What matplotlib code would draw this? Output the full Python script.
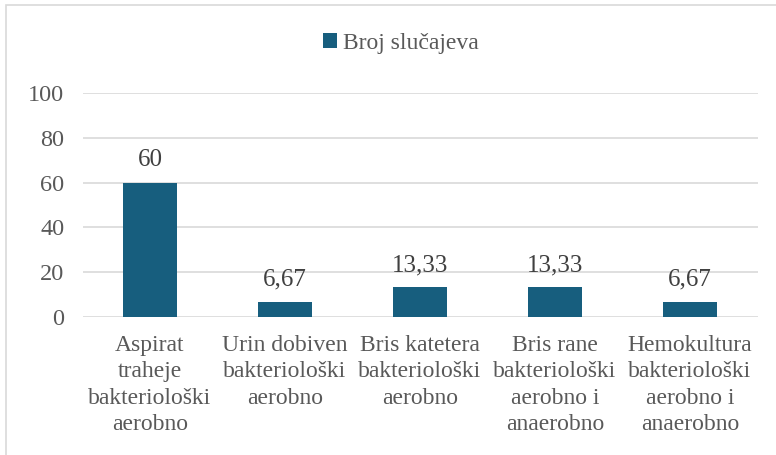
import matplotlib.pyplot as plt
from matplotlib.patches import Rectangle

categories = [
    "Aspirat\ntraheje\nbakteriološki\naerobno",
    "Urin dobiven\nbakteriološki\naerobno",
    "Bris katetera\nbakteriološki\naerobno",
    "Bris rane\nbakteriološki\naerobno i\nanaerobno",
    "Hemokultura\nbakteriološki\naerobno i\nanaerobno",
]
values = [60, 6.67, 13.33, 13.33, 6.67]
series_name = "Broj slučajeva"
yticks = [0, 20, 40, 60, 80, 100]

bar_color = "#175E7E"
text_color = "#595959"
grid_color = "#D9D9D9"

plt.rcParams['font.family'] = ['Liberation Serif', 'DejaVu Serif']

fig = plt.figure(figsize=(7.76, 4.55), dpi=100)
ax = fig.add_axes([82.5 / 776, 1 - 317 / 455, 675 / 776, 224 / 455])

x = range(len(values))
bars = ax.bar(x, values, width=0.4, color=bar_color, label=series_name, zorder=3)

labels = [("%g" % v).replace(".", ",") for v in values]
ax.bar_label(bars, labels=labels, padding=8, fontsize=18, color="#404040")

ax.set_xlim(-0.5, len(values) - 0.5)
ax.set_ylim(0, 100)
ax.set_yticks(yticks)
ax.set_yticklabels([str(t) for t in yticks], fontsize=17.5, color=text_color)
ax.set_xticks(list(x))
ax.set_xticklabels(categories, fontsize=17, color=text_color, linespacing=1.33, va="top")
ax.tick_params(axis="both", length=0)
ax.tick_params(axis="y", pad=13)
ax.tick_params(axis="x", pad=13)

ax.grid(axis="y", color=grid_color, linewidth=1.2, zorder=0)
for s in ax.spines.values():
    s.set_visible(False)

fig.legend(handles=[bars], labels=[series_name], loc="center",
           bbox_to_anchor=(401 / 776, 1 - 43 / 455), frameon=False,
           fontsize=17, labelcolor=text_color, handlelength=0.6,
           handleheight=0.6, handletextpad=0.25)

fig.patches.append(Rectangle((6 / 776, -0.1), 1.1, (1 - 5 / 455) + 0.1,
                             transform=fig.transFigure, fill=False,
                             edgecolor=grid_color, linewidth=1.2))

fig.savefig("out.png", dpi=100)
